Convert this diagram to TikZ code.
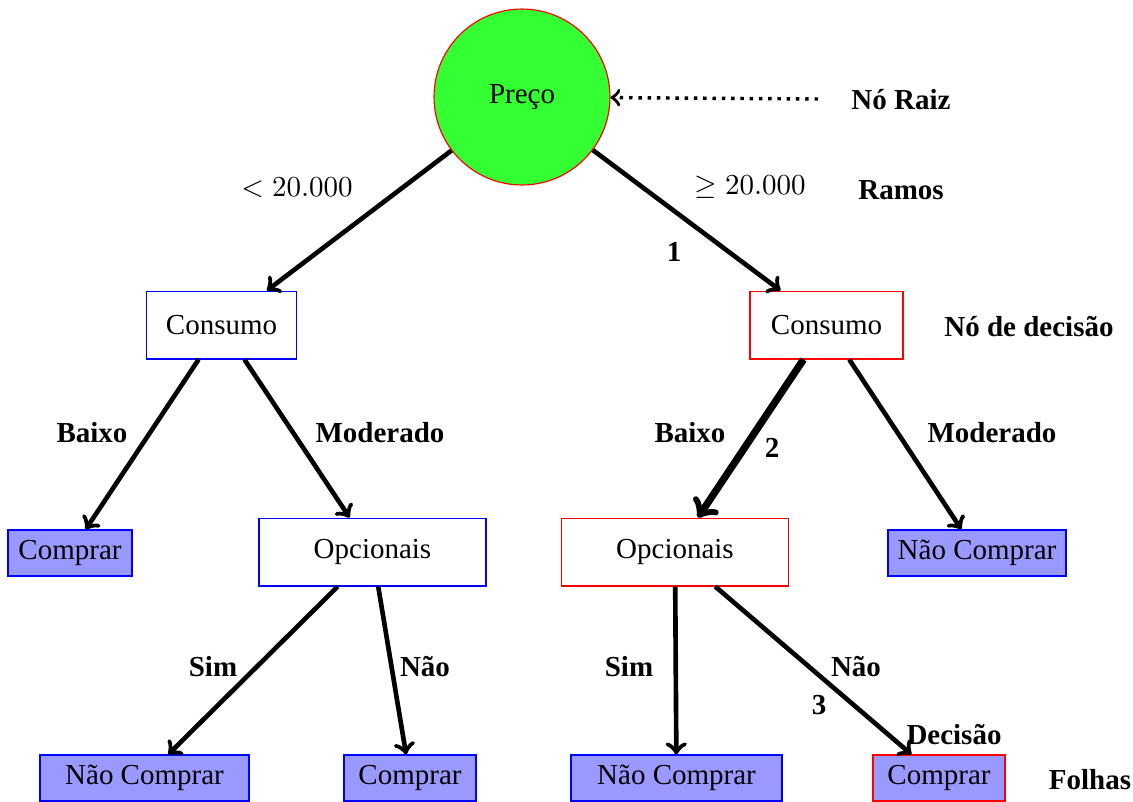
\documentclass[tikz,border=0pt]{standalone}
\usepackage[no-math]{fontspec}
\setmainfont{Liberation Serif}
\usetikzlibrary{positioning, shapes, arrows, calc}

\begin{document}
\begin{tikzpicture}[x=0.345pt, y=-0.345pt,
    raiz/.style={circle, draw=red, fill=green!80, minimum size=60.7pt},
    decisao/.style={rectangle, draw=#1, minimum height=23.4pt},
    folha/.style={rectangle, draw=#1, fill=blue!40, minimum height=15.9pt},
    ramo/.style={->, ultra thick},
    rotulo/.style={font=\bfseries}]
  \useasboundingbox (0,0) rectangle (1133,802);

  % Raiz
  \node[raiz] (preco) at (522,97) {Preço};
  \node[rotulo] (lblraiz) at (901,100) {Nó Raiz};
  \coordinate (pontaraiz) at (818,99);
  \draw[->, very thick, dotted] (pontaraiz) -- (preco);

  % Nos de decisao
  \node[decisao=blue, minimum width=52pt] (cons1) at (221.5,325) {Consumo};
  \node[decisao=red, minimum width=52.8pt] (cons2) at (826.5,325) {Consumo};
  \node[decisao=blue, minimum width=78.3pt] (opc1) at (372.5,552) {Opcionais};
  \node[decisao=red, minimum width=78.6pt] (opc2) at (675,552) {Opcionais};

  % Folhas
  \node[folha=blue, minimum width=42.8pt] (f1) at (70,553) {Comprar};
  \node[folha=blue, minimum width=61.4pt] (f2) at (977,553) {Não Comprar};
  \node[folha=blue, minimum width=72.1pt] (f3) at (144.5,778) {Não Comprar};
  \node[folha=blue, minimum width=45.5pt] (f4) at (410,778) {Comprar};
  \node[folha=blue, minimum width=72.8pt] (f5) at (676.5,778) {Não Comprar};
  \node[folha=red, minimum width=45.5pt] (f6) at (939,778) {Comprar};

  % Ramos
  \draw[ramo] (preco) -- (cons1);
  \draw[ramo] (preco) -- (cons2);
  \draw[ramo] (cons1) -- (f1);
  \draw[ramo] (cons1) -- (opc1);
  \draw[ramo, line width=2.5pt] (cons2) -- (opc2);
  \draw[ramo] (cons2) -- (f2);
  \draw[ramo] (opc1) -- (f3);
  \draw[ramo] (opc1) -- (f4);
  \draw[ramo] (opc2) -- (f5);
  \draw[ramo] (opc2) -- (f6);

  % Rotulos dos ramos
  \node (menor) at (297,188) {$<20.000$};
  \node (maior) at (750,187) {$\geq 20.000$};
  \node[rotulo] (b1) at (92,433) {Baixo};
  \node[rotulo] (m1) at (380,433) {Moderado};
  \node[rotulo] (b2) at (690,433) {Baixo};
  \node[rotulo] (m2) at (992,433) {Moderado};
  \node[rotulo] (s1) at (213,667) {Sim};
  \node[rotulo] (n1) at (425,667) {Não};
  \node[rotulo] (s2) at (629,667) {Sim};
  \node[rotulo] (n2) at (856,667) {Não};

  % Caminho e legenda
  \node[rotulo] (passo1) at (674,252) {1};
  \node[rotulo] (passo2) at (772,448) {2};
  \node[rotulo] (passo3) at (819,705) {3};
  \node[rotulo] (lblramos) at (901,190) {Ramos};
  \node[rotulo] (lbldecisao) at (1029,327) {Nó de decisão};
  \node[rotulo] (lbldec) at (954,735) {Decisão};
  \node[rotulo] (lblfolhas) at (1090,780) {Folhas};
\end{tikzpicture}
\end{document}
